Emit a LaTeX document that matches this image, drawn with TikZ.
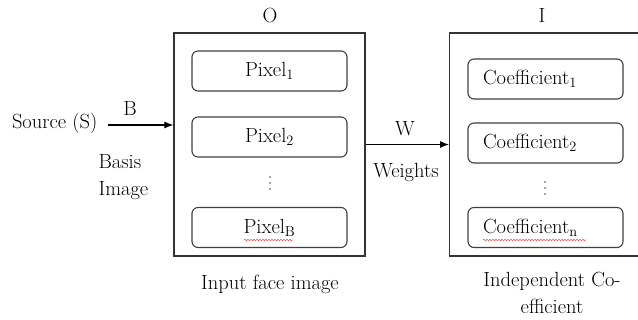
\documentclass[tikz,border=0pt]{standalone}
\usepackage{fontspec}
\usetikzlibrary{decorations.pathmorphing,arrows.meta}
\begin{document}
\begin{tikzpicture}[x=1pt,y=-1pt,
  font=\fontsize{20.5}{27}\selectfont,
  line width=1.1pt,
  outerbox/.style={draw=black!80, minimum width=191pt, minimum height=223pt, inner sep=0pt},
  pixbox/.style={draw=black!75, rounded corners=6pt, minimum width=155pt, minimum height=40pt, inner sep=0pt},
  coefbox/.style={draw=black!75, rounded corners=6pt, minimum height=40pt, text width=125pt, inner xsep=15pt, inner ysep=0pt, align=left},
  lbl/.style={inner sep=0pt},
  vdot/.style={circle, fill=black!70, inner sep=0pt, minimum size=1.8pt},
  arr/.style={-{Latex[length=9pt,width=7pt]}, line width=1.1pt},
  squig/.style={draw=red!70, line width=0.5pt, decorate, decoration={snake, amplitude=0.8pt, segment length=3pt}}
]
\useasboundingbox (0,0) rectangle (638,320);
\clip (0,0) rectangle (638,320);
\fill[white] (0,0) rectangle (638,320);

% outer boxes
\node[outerbox] (O) at (269.5,144.5) {};
\node[outerbox, minimum width=210pt, anchor=west] (I) at (449,144.5) {};

% titles
\node[lbl] (Ot) at (270,16) {O};
\node[lbl] (It) at (542,16) {I};

% pixel boxes
\node[pixbox] (p1) at (269.5,71) {Pixel\textsubscript{1}};
\node[pixbox] (p2) at (269.5,137) {Pixel\textsubscript{2}};
\node[vdot] (pd1) at (270,177) {};
\node[vdot] (pd2) at (270,183) {};
\node[vdot] (pd3) at (270,189) {};
\node[pixbox] (pb) at (269.5,227.5) {Pixel\textsubscript{B}};
\draw[squig] ([xshift=-25.5pt,yshift=-12.5pt]pb.center) -- ([xshift=23.5pt,yshift=-12.5pt]pb.center);

% coefficient boxes
\node[coefbox] (c1) at (545.5,79) {Coefficient\textsubscript{1}};
\node[coefbox] (c2) at (545.5,143) {Coefficient\textsubscript{2}};
\node[vdot] (cd1) at (545,182) {};
\node[vdot] (cd2) at (545,188) {};
\node[vdot] (cd3) at (545,194) {};
\node[coefbox] (cn) at (545.5,227.5) {Coefficient\textsubscript{n}};
\draw[squig] ([xshift=-62.5pt,yshift=-12.5pt]cn.center) -- ([xshift=40.5pt,yshift=-12.5pt]cn.center);

% source and arrows
\node[lbl, anchor=east] (src) at (98,123) {Source (S)};
\coordinate (srcend) at (108,125);
\draw[arr] (srcend) -- (O.west |- srcend);
\node[lbl] (B) at (130,109) {B};
\node[lbl, align=left, anchor=north west] (basis) at (98,154) {Basis\\Image};

\draw[arr] (O.east) -- (I.west);
\node[lbl] (W) at (405,129) {W};
\node[lbl] (wt) at (406,172) {Weights};

% captions
\node[lbl] (cap1) at (270,284) {Input face image};
\node[lbl, align=center, anchor=north] (cap2) at (552,272) {Independent Co-\\efficient};
\end{tikzpicture}
\end{document}
